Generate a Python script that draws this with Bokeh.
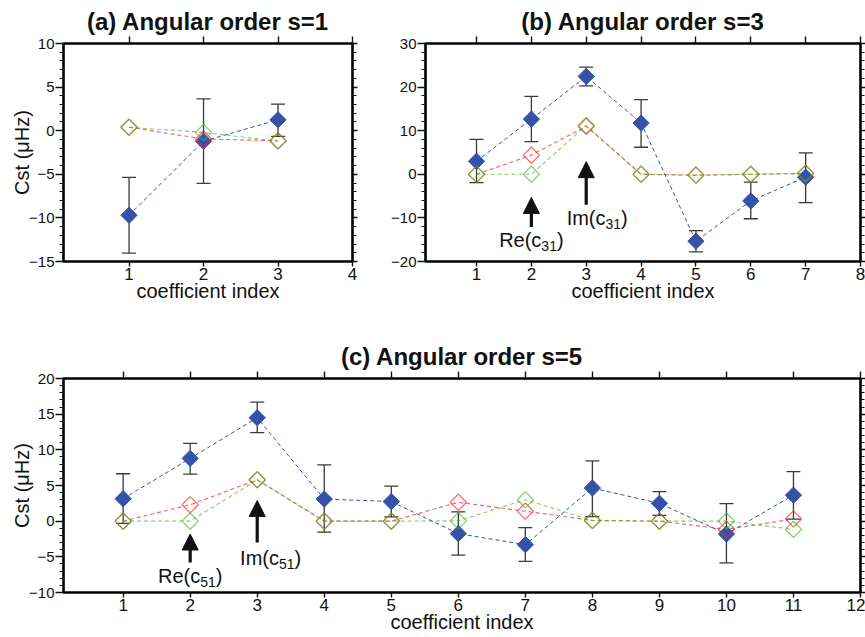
import math
from bokeh.plotting import figure
from bokeh.models import (ColumnDataSource, Whisker, TeeHead, Arrow, NormalHead,
                          LinearAxis, Range1d, FixedTicker)
from bokeh.layouts import column, row
from bokeh.embed import file_html
from bokeh.resources import INLINE
from bokeh.core.properties import value

# ---------------- data ----------------
# (a) angular order s=1
idx_a = [1, 2, 3]
obs_a = [-9.7, -1.2, 1.25]
lo_a = [-14.05, -6.05, -0.65]
hi_a = [-5.35, 3.65, 3.05]
red_a = [0.4, -0.95, -1.15]
green_a = [0.4, -0.2, -1.2]

# (b) angular order s=3
idx_b = [1, 2, 3, 4, 5, 6, 7]
obs_b = [3.0, 12.65, 22.45, 11.75, -15.35, -6.1, -0.65]
lo_b = [-1.9, 7.5, 20.3, 6.2, -17.8, -10.2, -6.5]
hi_b = [8.0, 17.85, 24.6, 17.15, -12.9, -1.8, 4.9]
red_b = [0.0, 4.4, 11.0, 0.0, -0.2, 0.0, 0.2]
green_b = [0.0, 0.0, 11.2, 0.0, -0.2, 0.0, 0.2]

# (c) angular order s=5
idx_c = [1, 2, 3, 4, 5, 6, 7, 8, 9, 10, 11]
obs_c = [3.15, 8.8, 14.5, 3.1, 2.75, -1.75, -3.3, 4.65, 2.5, -1.8, 3.65]
lo_c = [-0.3, 6.6, 12.4, -1.55, 0.6, -4.75, -5.65, 0.65, 0.8, -5.85, 0.3]
hi_c = [6.65, 10.9, 16.7, 7.9, 4.9, 1.3, -0.9, 8.45, 4.15, 2.45, 6.95]
red_c = [0.0, 2.3, 5.8, 0.0, 0.0, 2.65, 1.4, 0.1, 0.0, -1.15, 0.3]
green_c = [0.0, 0.0, 5.8, 0.0, 0.0, 0.05, 3.0, 0.1, 0.0, 0.0, -1.15]

titles = ["(a) Angular order s=1", "(b) Angular order s=3", "(c) Angular order s=5"]
x_label = "coefficient index"
y_label = "Cst (\u03bcHz)"

# annotations (arrows + labels)
arrow_x_b = [2, 3]
arrow_tail_b = [-12.1, -7.0]
arrow_tip_b = [-5.3, 2.9]
lab_main_b = ["Re(c", "Im(c"]
lab_sub_b = ["31", "31"]
lab_x_b = [2.0, 3.2]
lab_y_b = [-15.0, -10.0]

arrow_x_c = [2, 3]
arrow_tail_c = [-5.8, -3.0]
arrow_tip_c = [-1.8, 2.9]
lab_main_c = ["Re(c", "Im(c"]
lab_sub_c = ["51", "51"]
lab_x_c = [2.0, 3.2]
lab_y_c = [-7.7, -5.1]

# ---------------- style ----------------
FONT = "Liberation Sans"
BLUE = "#3552a8"
RED = "#ff2424"
GREEN = "#44bb22"
INK = "#111111"
ERR = "#3a3a3a"

CW = {"R": .722, "e": .556, "I": .278, "m": .833, "(": .333, "c": .5, ")": .333,
      "0": .556, "1": .556, "2": .556, "3": .556, "4": .556, "5": .556}


def tw(s, fs):
    return sum(CW.get(ch, .55) for ch in s) * fs


def style_axis(ax, ticks, labels=True, minor=True, tick_out=7, lab_fs="15px"):
    ax.axis_line_color = None
    ax.major_tick_line_color = INK
    ax.major_tick_line_width = 1.4
    ax.major_tick_in = 0
    ax.major_tick_out = tick_out
    if minor:
        ax.minor_tick_line_color = INK
        ax.minor_tick_line_width = 1.2
        ax.minor_tick_in = 0
        ax.minor_tick_out = 4
    else:
        ax.minor_tick_line_color = None
    ax.major_label_text_font = FONT
    ax.major_label_text_color = INK
    if labels:
        ax.major_label_text_font_size = lab_fs
        ax.major_label_standoff = 1
    else:
        ax.major_label_overrides = {t: "" for t in ticks}
        ax.major_label_text_font_size = "1px"
        ax.major_label_standoff = 0
    ax.axis_label_text_font = FONT
    ax.axis_label_text_font_size = "20px"
    ax.axis_label_text_font_style = "normal"
    ax.axis_label_text_color = INK
    ax.axis_label_standoff = 0


def make_panel(title, idx, obs, lo, hi, red, green, xr, yr, ymaj, ymin,
               width, height, borders, ylab, title_standoff):
    p = figure(width=width, height=height, x_range=Range1d(*xr), y_range=Range1d(*yr),
               toolbar_location=None, output_backend="svg",
               min_border_left=borders[0], min_border_right=borders[1],
               min_border_top=borders[2], min_border_bottom=borders[3])
    p.title.text = title
    p.title.align = "center"
    p.title.text_font = FONT
    p.title.text_font_size = "24px"
    p.title.text_font_style = "bold"
    p.title.text_color = INK
    p.title.standoff = title_standoff
    p.xgrid.visible = False
    p.ygrid.visible = False
    p.outline_line_color = "#000000"
    p.outline_line_width = 2.6
    p.outline_line_alpha = 1
    p.background_fill_color = "white"
    p.border_fill_color = "white"

    xt = list(range(1, int(xr[1]) + 1))
    p.xaxis.ticker = FixedTicker(ticks=xt)
    p.yaxis.ticker = FixedTicker(ticks=ymaj, minor_ticks=ymin)
    style_axis(p.xaxis[0], xt, labels=True, minor=False, tick_out=5, lab_fs="17px")
    style_axis(p.yaxis[0], ymaj, labels=True, minor=True, tick_out=8, lab_fs="15px")
    p.xaxis.axis_label = x_label
    p.xaxis.axis_label_standoff = -3
    if ylab:
        p.yaxis.axis_label = y_label
        p.yaxis.axis_label_standoff = -7

    top = LinearAxis(ticker=FixedTicker(ticks=xt))
    style_axis(top, xt, labels=False, minor=False, tick_out=7)
    p.add_layout(top, "above")
    right = LinearAxis(ticker=FixedTicker(ticks=ymaj, minor_ticks=ymin))
    style_axis(right, ymaj, labels=False, minor=True, tick_out=5)
    p.add_layout(right, "right")

    src = ColumnDataSource(dict(x=idx, obs=obs, lo=lo, hi=hi, red=red, green=green))
    p.line("x", "red", source=src, line_color=RED, line_dash="4 3", line_width=1.1, line_alpha=0.75)
    p.line("x", "green", source=src, line_color=GREEN, line_dash="4 3", line_width=1.1, line_alpha=0.7)
    p.line("x", "obs", source=src, line_color=BLUE, line_dash="4 3", line_width=1.0)
    w = Whisker(source=src, base="x", lower="lo", upper="hi", line_color=ERR, line_width=1.3,
                upper_head=TeeHead(size=14, line_color=ERR, line_width=1.3),
                lower_head=TeeHead(size=14, line_color=ERR, line_width=1.3))
    p.add_layout(w)
    p.scatter("x", "obs", source=src, marker="square", angle=math.pi / 4, size=11.5,
              fill_color=BLUE, line_color=BLUE)
    p.scatter("x", "red", source=src, marker="square", angle=math.pi / 4, size=11.5,
              fill_color=None, line_color=RED, line_width=1.2, line_alpha=0.7)
    p.scatter("x", "green", source=src, marker="square", angle=math.pi / 4, size=11.5,
              fill_color=None, line_color=GREEN, line_width=1.2, line_alpha=0.7)
    return p


def add_annotations(p, ax, tail, tip, lmain, lsub, lx, ly):
    asrc = ColumnDataSource(dict(x=ax, y0=tail, y1=tip))
    p.add_layout(Arrow(source=asrc, x_start="x", y_start="y0", x_end="x", y_end="y1",
                       line_color="#111", line_width=3.2,
                       end=NormalHead(size=16, fill_color="#111", line_color="#111", line_width=1)))
    FM, FS = 20, 14
    main_off, sub_off, close_off = [], [], []
    for m, s in zip(lmain, lsub):
        total = tw(m, FM) + tw(s, FS) + tw(")", FM)
        mo = -total / 2 + tw(m, FM)
        main_off.append(mo)
        sub_off.append(mo)
        close_off.append(mo + tw(s, FS))
    tsrc = ColumnDataSource(dict(x=lx, y=ly, main=lmain, sub=lsub, close=[")"] * len(lx),
                                 mo=main_off, so=sub_off, co=close_off))
    p.text("x", "y", text="main", source=tsrc, x_offset="mo", text_align="right",
           text_baseline="middle", text_font=value(FONT), text_font_size="20px", text_color="#111")
    p.text("x", "y", text="sub", source=tsrc, x_offset="so", y_offset=6, text_align="left",
           text_baseline="middle", text_font=value(FONT), text_font_size="14px", text_color="#111")
    p.text("x", "y", text="close", source=tsrc, x_offset="co", text_align="left",
           text_baseline="middle", text_font=value(FONT), text_font_size="20px", text_color="#111")


pa = make_panel(titles[0], idx_a, obs_a, lo_a, hi_a, red_a, green_a,
                (0.12, 4), (-15, 10), list(range(-15, 11, 5)), list(range(-15, 11, 1)),
                385, 306, (63, 33, 43, 45), True, 3)
pb = make_panel(titles[1], idx_b, obs_b, lo_b, hi_b, red_b, green_b,
                (0.07, 8), (-20, 30), list(range(-20, 31, 10)), list(range(-20, 31, 2)),
                480, 306, (40, 5, 43, 45), False, 3)
pc = make_panel(titles[2], idx_c, obs_c, lo_c, hi_c, red_c, green_c,
                (0.11, 12), (-10, 20), list(range(-10, 21, 5)), list(range(-10, 21, 1)),
                865, 331, (63, 5, 72, 45), True, 3)
add_annotations(pb, arrow_x_b, arrow_tail_b, arrow_tip_b, lab_main_b, lab_sub_b, lab_x_b, lab_y_b)
add_annotations(pc, arrow_x_c, arrow_tail_c, arrow_tip_c, lab_main_c, lab_sub_c, lab_x_c, lab_y_c)

layout = column(row(pa, pb), pc)
open("out.html", "w").write(file_html(layout, INLINE))
